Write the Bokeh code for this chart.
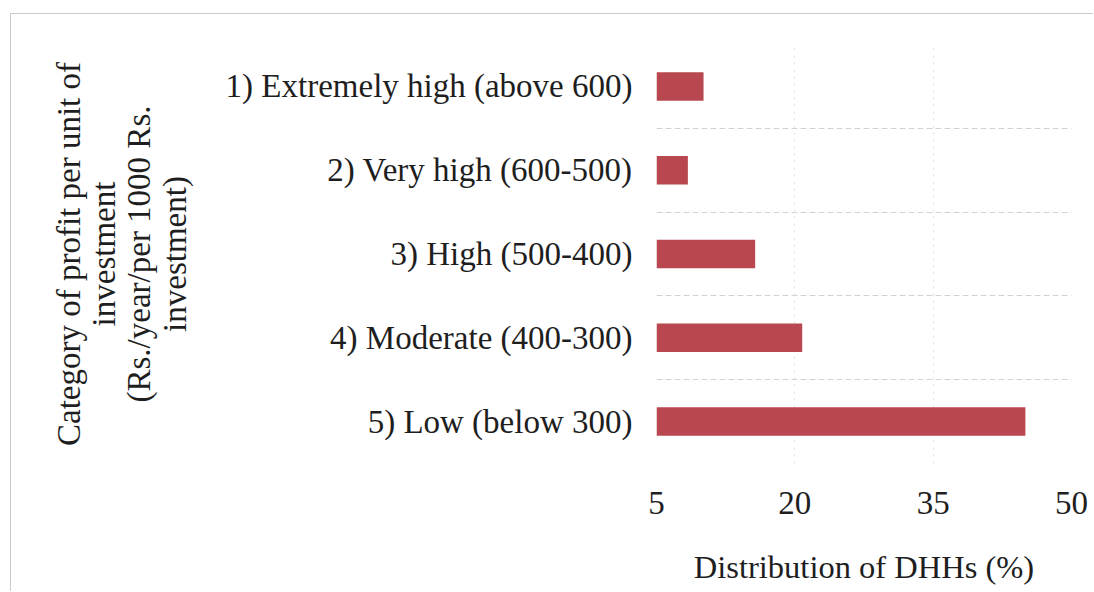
from bokeh.plotting import figure
from bokeh.models import Range1d, FixedTicker, Grid, ColumnDataSource
from bokeh.embed import file_html
from bokeh.resources import INLINE

categories = [
    "1) Extremely high (above 600)",
    "2) Very high (600-500)",
    "3) High (500-400)",
    "4) Moderate (400-300)",
    "5) Low (below 300)",
]
values = [10.1, 8.4, 15.7, 20.8, 45.0]
x_ticks = [5, 20, 35, 50]
x_title = "Distribution of DHHs (%)"
y_title = "Category of profit per unit of\ninvestment\n(Rs./year/per 1000 Rs.\ninvestment)"

n = len(categories)
ypos = [n - i for i in range(n)]
src = ColumnDataSource(dict(y=ypos, v=values, cat=categories))

FONT = "Liberation Serif"
TXT = "#1e1e1e"

p = figure(width=1083, height=578, output_backend="svg", toolbar_location=None,
           x_range=Range1d(x_ticks[0], x_ticks[-1]), y_range=Range1d(0.5, n + 0.5),
           min_border_left=645, min_border_right=23, min_border_top=30, min_border_bottom=129)

p.hbar(y="y", right="v", left=x_ticks[0], height=0.34, source=src,
       fill_color="#b8474f", line_color=None)

p.outline_line_color = None
p.background_fill_color = "white"
p.border_fill_color = "white"

# x axis
xa = p.xaxis[0]
xa.ticker = FixedTicker(ticks=x_ticks)
xa.axis_line_color = None
xa.major_tick_line_color = None
xa.major_tick_out = 0
xa.minor_tick_line_color = None
xa.major_label_standoff = 28
xa.major_label_text_font = FONT
xa.major_label_text_font_size = "33px"
xa.major_label_text_color = TXT
xa.axis_label = x_title
xa.axis_label_text_font = FONT
xa.axis_label_text_font_size = "32.5px"
xa.axis_label_text_font_style = "normal"
xa.axis_label_text_color = TXT
xa.axis_label_standoff = 32

# y axis
ya = p.yaxis[0]
ya.ticker = FixedTicker(ticks=ypos)
ya.major_label_overrides = {y: c for y, c in zip(ypos, categories)}
ya.axis_line_color = None
ya.major_tick_line_color = None
ya.major_tick_out = 0
ya.minor_tick_line_color = None
ya.major_label_standoff = 24
ya.major_label_text_font = FONT
ya.major_label_text_font_size = "33px"
ya.major_label_text_color = TXT
ya.axis_label = y_title
ya.axis_label_text_font = FONT
ya.axis_label_text_font_size = "33px"
ya.axis_label_text_font_style = "normal"
ya.axis_label_text_color = TXT
ya.axis_label_text_line_height = 0.98
ya.axis_label_standoff = 30

# grids
p.ygrid.ticker = FixedTicker(ticks=[y + 0.5 for y in range(n + 1)])
p.ygrid.grid_line_color = "#d2d2d2"
p.ygrid.grid_line_dash = "6 3"
p.ygrid.grid_line_width = 1

p.xgrid.ticker = FixedTicker(ticks=x_ticks[1:-1])
p.xgrid.grid_line_color = "#dedede"
p.xgrid.grid_line_dash = "2 5"

edge = Grid(dimension=0, ticker=FixedTicker(ticks=[x_ticks[-1]]),
            grid_line_color="#d8d8d8", grid_line_width=1)
p.add_layout(edge)

p.styles = {"border-top": "1px solid #cfc8c8", "border-left": "1px solid #cfc8c8",
            "margin-top": "13px", "margin-left": "10px"}

open("out.html", "w").write(file_html(p, INLINE))
